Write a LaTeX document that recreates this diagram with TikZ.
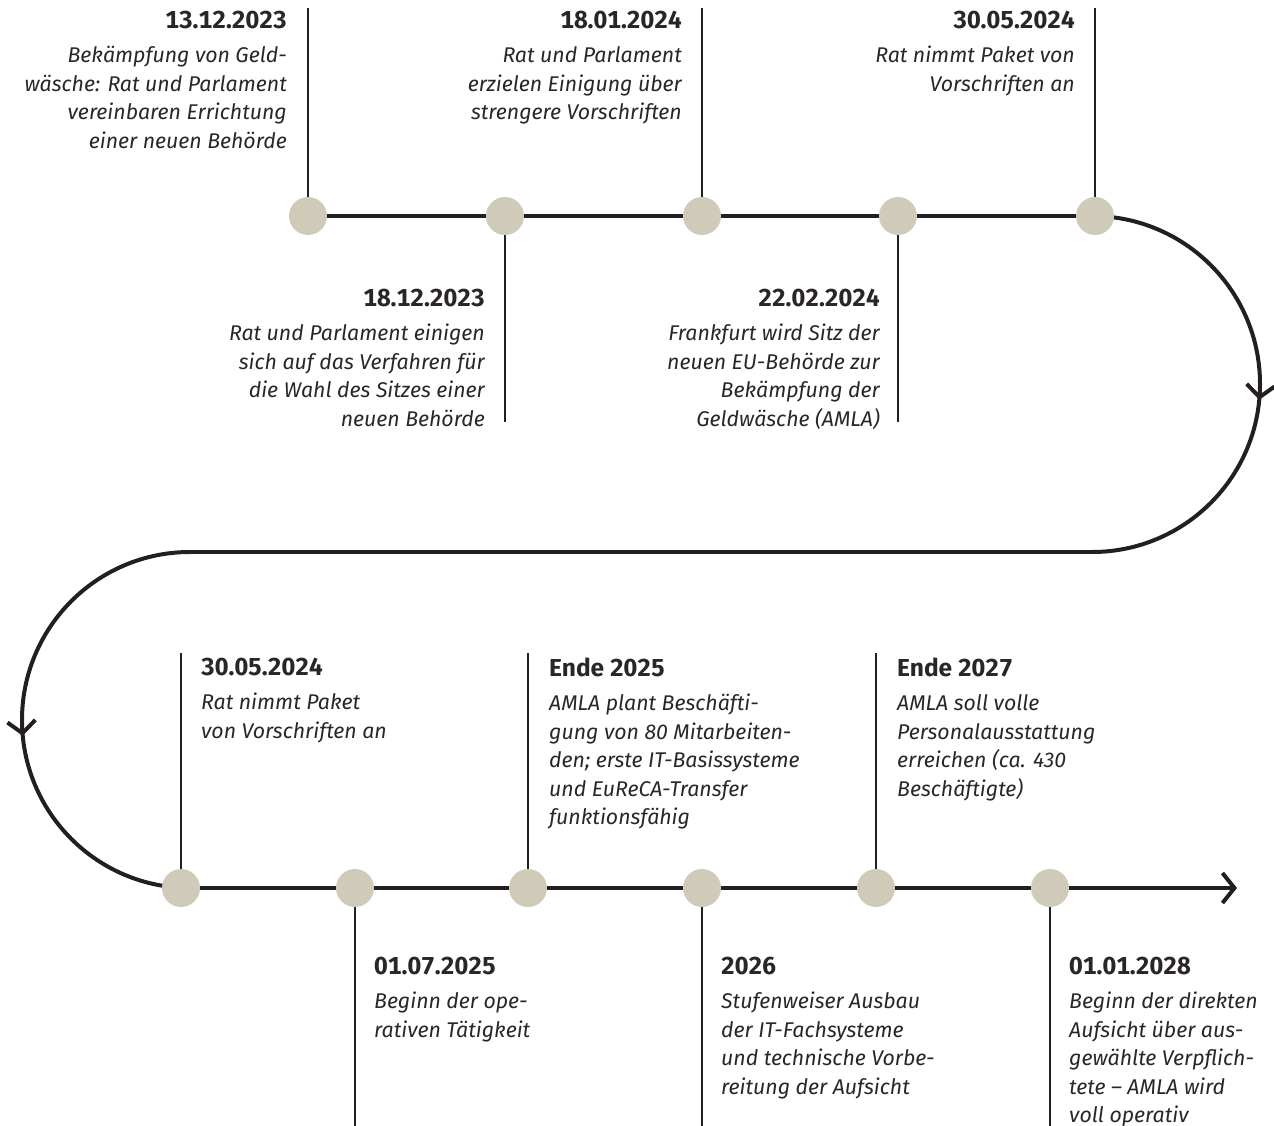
\documentclass[tikz,border=0pt]{standalone}
\usepackage{fontspec}
\setmainfont{Fira Sans}
\newfontfamily\datefont{Fira Sans}[Numbers=Monospaced]
\usetikzlibrary{arrows.meta,decorations.markings,backgrounds}
\definecolor{dotc}{HTML}{D0CBB9}
\definecolor{linec}{HTML}{231F20}
\definecolor{txtc}{HTML}{2A2627}
\newcommand\dt[1]{{\datefont\fontsize{24.5}{28.5}\selectfont\bfseries\upshape #1}\\[5.5pt]}
\begin{document}
\begin{tikzpicture}[x=1pt,y=-1pt,
  dot/.style={circle,fill=dotc,minimum size=38pt,inner sep=0pt},
  tick/.style={draw=linec,line width=1.3pt},
  main/.style={draw=linec,line width=4pt},
  chev/.style={-{Straight Barb[length=12pt,width=30pt,line width=4pt]}},
  lblr/.style={inner sep=0pt,align=right,anchor=north east,text=txtc,font=\fontsize{21.3}{28.5}\selectfont\itshape},
  lbll/.style={inner sep=0pt,align=left,anchor=north west,text=txtc,font=\fontsize{21.3}{28.5}\selectfont\itshape}]
\useasboundingbox (0,0) rectangle (1274,1126);

% dots
\node[dot] (d1) at (308,216) {};
\node[dot] (d2) at (505,216) {};
\node[dot] (d3) at (702,216) {};
\node[dot] (d4) at (898,216) {};
\node[dot] (d5) at (1095,216) {};
\node[dot] (e1) at (181,888) {};
\node[dot] (e2) at (355,888) {};
\node[dot] (e3) at (528,888) {};
\node[dot] (e4) at (702,888) {};
\node[dot] (e5) at (876,888) {};
\node[dot] (e6) at (1050,888) {};

% tick ends
\coordinate (t1) at (308,8);
\coordinate (t3) at (702,8);
\coordinate (t5) at (1095,8);
\coordinate (t2) at (505,422);
\coordinate (t4) at (898,422);
\coordinate (u1) at (181,653);
\coordinate (u3) at (528,653);
\coordinate (u5) at (876,653);
\coordinate (u2) at (355,1126);
\coordinate (u4) at (702,1126);
\coordinate (u6) at (1050,1126);

% curve points
\coordinate (ra) at (1092,216);
\coordinate (rb) at (1092,552);
\coordinate (la) at (190,552);
\coordinate (lb) at (190,888);
\coordinate (endtip) at (1237,888);

% labels
\node[lblr] (A) at (287,11) {\dt{13.12.2023}Bekämpfung von Geld-\\wäsche: Rat und Parlament\\vereinbaren Errichtung\\einer neuen Behörde};
\node[lblr] (B) at (682,11) {\dt{18.01.2024}Rat und Parlament\\erzielen Einigung über\\strengere Vorschriften};
\node[lblr] (C) at (1075,11) {\dt{30.05.2024}Rat nimmt Paket von\\Vorschriften an};
\node[lblr] (D) at (485,289) {\dt{18.12.2023}Rat und Parlament einigen\\sich auf das Verfahren für\\die Wahl des Sitzes einer\\neuen Behörde};
\node[lblr] (E) at (880,289) {\dt{22.02.2024}Frankfurt wird Sitz der\\neuen EU-Behörde zur\\Bekämpfung der\\Geldwäsche (AMLA)};
\node[lbll] (F) at (201,658) {\dt{30.05.2024}Rat nimmt Paket\\von Vorschriften an};
\node[lbll] (G) at (549,658) {\dt{Ende 2025}AMLA plant Beschäfti-\\gung von 80 Mitarbeiten-\\den; erste IT-Basissysteme\\und EuReCA-Transfer\\funktionsfähig};
\node[lbll] (H) at (897,658) {\dt{Ende 2027}AMLA soll volle\\Personalausstattung\\erreichen (ca. 430\\Beschäftigte)};
\node[lbll] (I) at (374,957) {\dt{01.07.2025}Beginn der ope-\\rativen Tätigkeit};
\node[lbll] (J) at (721,957) {\dt{2026}Stufenweiser Ausbau\\der IT-Fachsysteme\\und technische Vorbe-\\reitung der Aufsicht};
\node[lbll] (K) at (1069,957) {\dt{01.01.2028}Beginn der direkten\\Aufsicht über aus-\\gewählte Verpflich-\\tete – AMLA wird\\voll operativ};

\begin{pgfonlayer}{background}
  % ticks
  \draw[tick] (t1) -- (d1.center);
  \draw[tick] (t3) -- (d3.center);
  \draw[tick] (t5) -- (d5.center);
  \draw[tick] (d2.center) -- (t2);
  \draw[tick] (d4.center) -- (t4);
  \draw[tick] (u1) -- (e1.center);
  \draw[tick] (u3) -- (e3.center);
  \draw[tick] (u5) -- (e5.center);
  \draw[tick] (e2.center) -- (u2);
  \draw[tick] (e4.center) -- (u4);
  \draw[tick] (e6.center) -- (u6);
  % main line
  \draw[main] (d1.center) -- (d2.center) -- (d3.center) -- (d4.center) -- (d5.center) -- (ra);
  \draw[main,postaction={decorate},decoration={markings,mark=at position 0.53 with {\arrow{Straight Barb[length=12pt,width=28pt,line width=4pt]}}}]
    (ra) arc[start angle=-90,end angle=90,radius=168];
  \draw[main] (rb) -- (la);
  \draw[main,postaction={decorate},decoration={markings,mark=at position 0.53 with {\arrow{Straight Barb[length=12pt,width=28pt,line width=4pt]}}}]
    (la) arc[start angle=-90,end angle=-270,radius=168];
  \draw[main] (lb) -- (e1.center) -- (e2.center) -- (e3.center) -- (e4.center) -- (e5.center) -- (e6.center);
  \draw[main,chev] (e6.center) -- (endtip);
\end{pgfonlayer}
\end{tikzpicture}
\end{document}
